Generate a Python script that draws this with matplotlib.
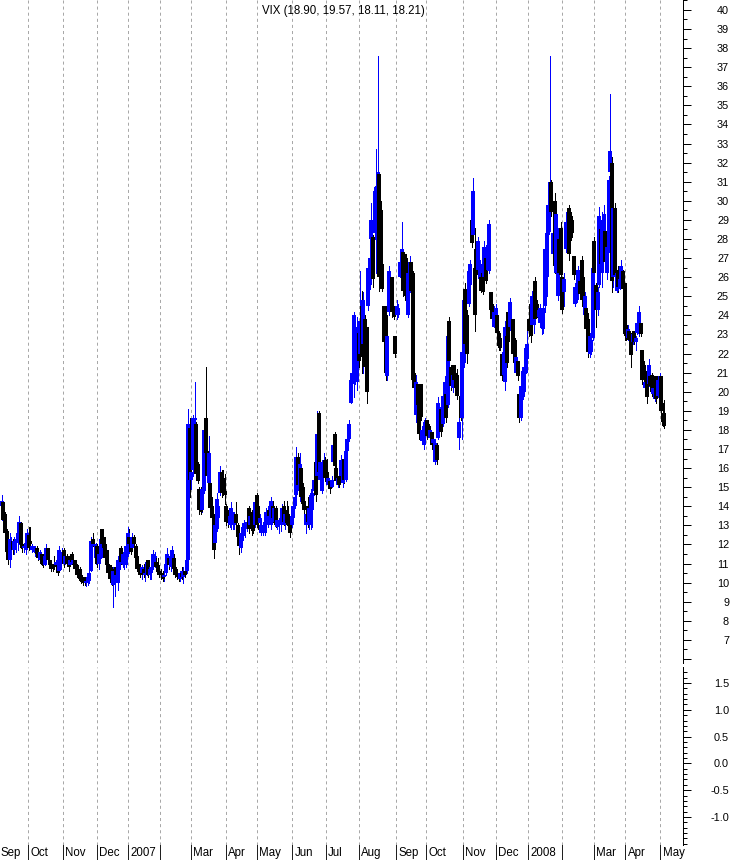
import numpy as np
import pandas as pd
import matplotlib
matplotlib.use('Agg')
import matplotlib.pyplot as plt
import matplotlib.transforms as mtransforms
from matplotlib.ticker import MultipleLocator, FixedLocator, FuncFormatter

plt.rcParams['font.family'] = ['Liberation Sans Narrow', 'Liberation Sans', 'DejaVu Sans']
plt.rcParams['axes.unicode_minus'] = False
plt.rcParams['lines.scale_dashes'] = False

title = 'VIX (18.90, 19.57, 18.11, 18.21)'
calendar_start = '2006-09-01'
first_day = '2006-09-07'
last_day = '2008-05-05'
holidays = ['2006-09-04', '2006-11-23', '2006-12-25', '2007-01-01', '2007-01-02',
            '2007-01-15', '2007-02-19', '2007-04-06', '2007-05-28', '2007-07-04',
            '2007-09-03', '2007-11-22', '2007-12-25', '2008-01-01', '2008-01-21',
            '2008-02-18', '2008-03-21']
month_names = ['Jan', 'Feb', 'Mar', 'Apr', 'May', 'Jun', 'Jul', 'Aug', 'Sep', 'Oct', 'Nov', 'Dec']

# daily VIX candles (one line per month)
opens = [
    14.0, 14.2, 13.6, 12.7, 11.6, 11.2, 11.8, 12.2, 11.7, 12.1, 12.3, 12.6, 13.1, 12.0, 11.8, 11.7, 12.0,
    12.5, 12.2, 11.7, 11.6, 11.6, 11.8, 11.6, 11.2, 11.5, 11.1, 10.9, 11.2, 11.8, 11.2, 11.0, 10.8, 11.0, 10.9, 10.9, 10.6, 11.0, 11.3,
    11.7, 11.0, 11.4, 11.1, 10.9, 11.5, 11.0, 11.2, 10.9, 10.6, 10.7, 10.4, 10.3, 10.2, 10.0, 10.1, 10.1, 10.6, 12.3, 11.9, 11.3,
    11.9, 11.0, 11.3, 12.8, 12.4, 12.0, 11.7, 11.0, 10.9, 10.7, 9.9, 10.2, 10.8, 10.0, 11.0, 11.8, 11.0, 10.9, 10.9, 11.5,
    12.4, 12.0, 11.8, 12.4, 11.9, 11.4, 10.9, 10.7, 10.5, 10.7, 10.4, 10.5, 11.2, 10.4, 10.5, 10.8, 11.3, 11.1, 10.9, 10.6,
    10.5, 10.4, 10.3, 10.5, 10.9, 11.3, 10.8, 11.3, 11.3, 10.8, 10.5, 10.3, 10.2, 10.5, 10.3, 10.6, 10.6, 11.2, 18.1,
    15.4, 15.9, 18.5, 18.3, 16.2, 14.9, 14.6, 13.8, 14.8, 18.6, 16.9, 15.2, 15.2, 14.0, 13.5, 12.1, 12.8, 13.4, 14.7, 15.8, 15.5, 14.8,
    14.0, 13.5, 13.0, 13.1, 13.3, 13.0, 13.6, 13.0, 12.6, 11.8, 12.2, 12.6, 12.8, 13.0, 13.9, 13.0, 13.6, 13.7, 13.0, 14.6,
    14.0, 13.1, 12.6, 12.7, 12.6, 13.2, 13.0, 13.8, 13.0, 14.0, 13.2, 13.9, 12.9, 13.0, 13.0, 13.2, 14.0, 13.0, 13.8, 13.6, 13.2, 13.0,
    13.4, 14.0, 14.6, 16.6, 14.8, 16.0, 15.0, 14.3, 13.0, 14.0, 13.0, 13.5, 13.8, 14.8, 16.3, 15.6, 18.9, 15.4, 14.8, 16.0, 16.4,
    15.8, 15.1, 15.3, 15.0, 16.3, 17.8, 16.0, 15.1, 15.6, 15.6, 15.2, 16.5, 15.4, 16.9, 17.5, 19.4, 20.4, 21.0, 22.0, 20.5, 23.1,
    22.0, 24.5, 22.5, 23.8, 23.4, 24.5, 25.6, 28.0, 28.1, 28.3, 29.0, 31.0, 31.4, 29.5, 26.7, 24.5, 24.0, 20.8, 24.2, 24.6, 26.0, 24.5, 22.9,
    24.0, 24.0, 26.0, 26.7, 27.3, 26.0, 27.0, 24.0, 25.2, 26.8, 26.2, 21.0, 18.8, 20.4, 19.5, 20.4, 17.4, 17.2, 17.8,
    18.5, 18.2, 17.6, 17.9, 17.3, 16.3, 17.2, 17.6, 18.8, 19.1, 18.3, 19.3, 19.9, 19.3, 23.7, 21.3, 20.2, 21.4, 20.8, 20.9, 17.6, 19.8, 18.6,
    21.5, 25.4, 24.0, 24.6, 25.6, 29.0, 28.2, 26.5, 27.5, 26.4, 25.9, 26.0, 26.2, 26.0, 27.0, 26.4, 26.3, 25.2, 24.6, 23.4, 24.0,
    24.0, 23.1, 22.8, 22.0, 20.9, 20.5, 22.9, 24.2, 23.4, 23.2, 23.8, 22.7, 21.0, 21.6, 19.9, 18.6, 19.7, 20.0, 21.0, 21.7,
    23.8, 23.5, 23.5, 23.5, 25.8, 24.6, 23.9, 23.6, 23.4, 23.3, 24.5, 26.0, 28.2, 29.9, 31.0, 27.2, 30.0, 26.2, 25.0, 28.0, 28.6,
    26.0, 25.2, 27.5, 27.8, 29.6, 29.4, 29.0, 27.1, 24.6, 24.8, 25.3, 25.8, 26.9, 26.0, 24.0, 24.4, 23.8, 22.0, 22.1, 22.8,
    27.9, 25.6, 24.3, 25.6, 28.5, 26.2, 27.0, 28.4, 26.2, 27.5, 31.5, 32.0, 26.0, 29.6, 25.3, 26.4, 25.4, 25.8, 26.3, 25.7,
    23.5, 22.8, 23.2, 22.8, 22.6, 23.2, 22.6, 23.1, 23.0, 23.6, 22.2, 21.4, 20.2, 21.1, 20.4, 20.8, 20.9, 19.9, 19.6, 20.8, 19.8, 20.5,
    20.8, 18.9, 18.90]
highs = [
    14.6, 14.3, 13.7, 12.8, 11.7, 12.6, 12.4, 12.3, 12.4, 12.4, 12.9, 13.5, 13.2, 12.3, 12.0, 12.2, 12.8,
    12.9, 12.9, 12.0, 11.9, 11.9, 11.9, 11.8, 11.7, 11.5, 11.2, 11.6, 12.0, 11.8, 11.2, 11.1, 10.9, 11.4, 11.2, 11.0, 11.9, 11.4, 11.8,
    11.8, 11.6, 11.5, 11.4, 11.2, 11.6, 11.3, 11.2, 11.0, 10.7, 10.8, 10.5, 10.3, 10.3, 10.2, 10.5, 10.6, 12.4, 12.6, 12.3, 12.1,
    12.0, 11.6, 12.5, 12.8, 12.4, 12.1, 11.7, 11.0, 10.9, 10.8, 10.8, 10.6, 11.0, 11.4, 11.5, 11.9, 11.6, 11.2, 12.1, 12.9,
    12.8, 12.3, 12.6, 12.5, 12.0, 11.4, 11.0, 11.0, 10.9, 11.0, 10.6, 11.2, 11.2, 10.8, 10.9, 11.7, 11.6, 11.4, 11.3, 10.9,
    10.7, 10.6, 10.5, 11.2, 11.8, 11.4, 11.6, 11.9, 11.5, 10.9, 10.7, 10.5, 10.6, 10.8, 10.8, 11.0, 11.7, 19.1, 18.6,
    18.6, 18.8, 20.5, 18.4, 16.3, 15.0, 15.0, 15.2, 18.2, 21.3, 17.6, 17.7, 15.3, 14.5, 13.6, 13.8, 14.7, 14.1, 16.1, 15.9, 15.9, 15.7,
    14.1, 13.8, 13.6, 14.2, 13.7, 13.7, 14.2, 13.1, 12.8, 12.9, 12.8, 13.3, 13.2, 13.4, 14.0, 13.7, 13.8, 13.8, 14.5, 14.7,
    14.0, 13.6, 13.2, 13.0, 13.4, 13.9, 14.0, 14.0, 14.5, 14.3, 14.0, 14.0, 13.5, 13.4, 13.5, 14.1, 14.3, 13.9, 14.3, 14.0, 13.4, 14.0,
    14.2, 14.8, 17.1, 16.8, 16.8, 16.1, 15.2, 14.4, 14.0, 14.5, 14.1, 14.9, 14.9, 15.6, 16.6, 19.0, 19.0, 16.6, 16.3, 16.8, 16.6,
    16.5, 15.6, 15.4, 15.6, 17.7, 17.9, 16.2, 15.6, 15.6, 16.7, 15.9, 16.6, 17.0, 17.6, 18.5, 20.8, 23.4, 24.2, 24.0, 23.9, 23.1,
    26.3, 25.3, 25.2, 24.0, 23.4, 26.9, 28.3, 29.9, 28.2, 30.8, 32.7, 37.6, 31.5, 30.0, 26.7, 24.5, 24.5, 23.1, 26.6, 26.0, 26.0, 24.5, 22.9,
    24.8, 24.6, 27.2, 28.9, 27.4, 27.2, 27.2, 26.6, 27.1, 26.8, 26.3, 21.0, 20.9, 20.4, 19.5, 20.4, 18.1, 18.5, 18.6,
    18.5, 18.3, 18.2, 17.9, 17.6, 17.5, 17.3, 19.7, 19.2, 19.2, 20.1, 20.8, 20.6, 23.1, 23.9, 21.4, 21.1, 21.4, 21.0, 21.2, 18.7, 20.2, 22.4,
    25.3, 25.7, 24.3, 26.6, 26.9, 29.2, 31.2, 28.6, 27.5, 28.1, 26.9, 26.0, 26.4, 27.9, 27.0, 27.9, 29.0, 25.2, 24.6, 24.5, 24.6,
    24.2, 23.2, 23.1, 22.0, 22.4, 23.7, 22.9, 24.2, 24.9, 23.8, 23.8, 22.8, 22.0, 21.6, 19.9, 20.6, 21.3, 21.5, 22.5, 23.2,
    24.6, 23.7, 25.3, 25.5, 26.0, 24.8, 24.4, 24.6, 24.4, 24.6, 28.1, 28.5, 30.0, 37.6, 31.1, 28.5, 30.4, 29.7, 28.6, 28.3, 28.9,
    26.0, 26.2, 29.4, 29.2, 29.8, 29.6, 29.2, 27.1, 25.7, 25.7, 26.6, 25.8, 27.1, 26.2, 25.2, 24.5, 24.1, 23.1, 22.9, 26.9,
    28.1, 25.7, 25.5, 29.7, 28.6, 29.4, 29.8, 28.6, 28.0, 31.3, 35.6, 32.3, 29.9, 29.9, 26.4, 26.6, 26.1, 26.9, 26.4, 25.7,
    24.1, 23.5, 23.3, 23.1, 23.1, 23.2, 22.9, 23.8, 24.5, 23.6, 22.2, 21.6, 20.6, 21.1, 21.7, 21.0, 21.0, 20.4, 20.3, 20.8, 20.8, 21.0,
    20.8, 19.4, 19.57]
lows = [
    13.3, 13.1, 12.4, 11.4, 11.0, 10.8, 11.6, 11.5, 11.5, 11.6, 11.7, 12.0, 11.8, 11.6, 11.6, 11.5, 11.9,
    11.7, 11.8, 11.6, 11.6, 11.4, 11.4, 11.2, 11.1, 10.9, 10.8, 10.9, 11.2, 11.1, 10.8, 10.6, 10.6, 10.7, 10.9, 10.4, 10.6, 10.7, 11.2,
    10.8, 11.0, 10.9, 10.6, 10.9, 11.0, 10.8, 10.6, 10.3, 10.3, 10.1, 10.0, 9.9, 9.9, 9.8, 9.9, 10.0, 10.6, 11.9, 11.4, 11.0,
    10.8, 10.7, 11.3, 11.9, 11.7, 11.2, 10.8, 10.4, 10.1, 9.9, 8.7, 9.3, 10.3, 9.6, 10.7, 11.0, 10.8, 10.7, 10.8, 11.4,
    11.9, 11.5, 11.7, 11.8, 11.2, 10.6, 10.5, 10.3, 10.2, 10.3, 10.1, 10.4, 10.3, 10.2, 10.2, 10.7, 10.8, 10.6, 10.5, 10.3,
    10.2, 10.1, 10.1, 10.4, 10.6, 10.7, 10.6, 11.0, 10.6, 10.3, 10.2, 10.1, 10.1, 10.2, 10.0, 10.3, 10.5, 11.1, 14.5,
    14.9, 15.6, 18.1, 15.6, 15.2, 13.6, 13.6, 13.7, 14.7, 16.4, 15.5, 14.8, 13.7, 13.3, 11.3, 12.0, 12.7, 13.3, 14.6, 14.5, 14.6, 14.1,
    13.0, 12.9, 12.9, 12.8, 12.8, 12.8, 13.0, 12.2, 11.5, 11.6, 12.0, 12.5, 12.4, 12.7, 12.6, 12.9, 12.5, 12.6, 12.9, 12.9,
    12.8, 12.9, 12.5, 12.5, 12.5, 12.9, 12.9, 13.3, 12.8, 13.2, 13.1, 12.9, 12.8, 12.6, 12.7, 13.1, 13.0, 12.8, 13.0, 12.9, 12.4, 12.9,
    13.3, 13.9, 14.2, 14.9, 14.3, 14.2, 13.9, 13.6, 12.6, 12.9, 12.8, 12.8, 12.9, 14.6, 14.3, 15.5, 15.6, 15.4, 14.7, 15.7, 15.3,
    15.2, 15.0, 14.7, 15.0, 16.2, 15.9, 15.2, 15.0, 15.0, 15.5, 15.0, 15.2, 15.3, 16.6, 17.4, 19.4, 20.3, 19.7, 20.4, 20.1, 21.3,
    21.7, 21.0, 21.0, 20.8, 19.4, 24.3, 25.4, 27.7, 25.5, 28.0, 26.2, 30.0, 25.3, 25.9, 25.3, 22.4, 20.6, 20.6, 24.0, 24.5, 23.9, 23.8, 21.8,
    23.8, 23.9, 26.0, 26.5, 25.0, 24.8, 24.9, 23.9, 25.2, 25.0, 20.4, 20.1, 18.4, 19.2, 17.5, 18.5, 17.3, 17.0, 17.6,
    17.5, 17.8, 17.5, 17.0, 17.1, 16.2, 16.2, 17.5, 18.4, 17.7, 18.2, 18.9, 18.4, 19.2, 21.2, 20.1, 20.0, 20.4, 20.0, 19.6, 17.0, 18.5, 17.5,
    21.3, 22.0, 21.5, 24.5, 25.5, 27.6, 27.9, 23.2, 26.0, 26.4, 25.8, 25.2, 25.1, 26.0, 25.7, 26.4, 26.2, 24.1, 23.6, 23.4, 23.9,
    22.9, 22.2, 22.2, 20.6, 20.8, 20.1, 21.3, 22.4, 23.4, 22.9, 21.8, 21.3, 21.0, 20.6, 18.4, 18.5, 19.6, 19.8, 21.0, 21.7,
    22.9, 22.6, 23.4, 23.1, 23.6, 23.9, 23.9, 23.4, 23.0, 23.1, 24.2, 25.0, 28.0, 28.4, 29.2, 27.1, 26.2, 25.9, 24.8, 25.9, 25.5,
    24.1, 24.5, 27.3, 27.3, 26.9, 27.6, 28.1, 25.9, 24.5, 24.7, 25.2, 25.0, 24.5, 24.6, 23.8, 23.1, 21.8, 21.8, 22.0, 22.7,
    25.9, 23.4, 24.0, 25.5, 26.4, 25.5, 26.9, 26.4, 25.9, 27.3, 30.9, 25.2, 25.5, 25.7, 25.2, 25.2, 25.4, 25.7, 25.2, 22.7,
    22.7, 22.7, 22.5, 21.3, 22.5, 22.5, 22.2, 23.0, 22.9, 22.9, 20.4, 20.4, 20.1, 19.4, 20.3, 20.1, 19.8, 19.8, 19.5, 19.4, 19.7, 20.2,
    18.9, 18.2, 18.11]
closes = [
    14.3, 13.3, 12.6, 11.6, 11.2, 12.3, 12.2, 11.7, 12.2, 12.3, 12.6, 13.2, 12.0, 11.8, 11.9, 12.1, 12.6,
    11.8, 12.0, 11.9, 11.8, 11.8, 11.5, 11.3, 11.6, 11.0, 10.9, 11.4, 11.8, 11.2, 10.9, 10.7, 10.7, 10.8, 11.1, 10.5, 11.7, 11.3, 11.6,
    11.0, 11.4, 11.0, 10.8, 11.2, 11.1, 11.2, 10.7, 10.4, 10.4, 10.2, 10.1, 10.0, 10.0, 10.1, 10.3, 10.5, 12.2, 12.0, 12.0, 11.9,
    11.0, 11.5, 12.3, 12.0, 11.8, 11.3, 10.9, 10.5, 10.2, 10.0, 10.6, 10.4, 10.4, 11.2, 11.4, 11.1, 11.5, 11.1, 11.9, 12.6,
    12.0, 11.6, 12.4, 12.0, 11.3, 10.7, 10.6, 10.4, 10.8, 10.4, 10.5, 11.1, 10.4, 10.7, 10.8, 11.5, 11.4, 10.8, 10.6, 10.4,
    10.4, 10.2, 10.4, 11.0, 11.5, 10.9, 11.4, 11.7, 10.7, 10.4, 10.3, 10.2, 10.5, 10.3, 10.6, 10.4, 11.2, 18.3, 15.4,
    15.8, 18.6, 18.6, 15.7, 15.3, 13.8, 13.7, 14.9, 18.0, 16.8, 15.6, 16.8, 13.9, 13.4, 11.7, 13.0, 14.4, 14.0, 15.8, 14.7, 14.7, 14.6,
    13.2, 13.1, 13.5, 13.9, 13.5, 13.5, 13.1, 12.4, 11.9, 12.6, 12.6, 13.1, 13.1, 13.2, 12.8, 13.5, 12.8, 12.7, 14.2, 13.0,
    13.1, 13.4, 13.0, 12.9, 13.2, 13.7, 13.8, 13.5, 14.3, 13.4, 13.9, 13.0, 13.3, 13.2, 13.3, 13.9, 13.2, 13.6, 13.1, 13.0, 12.6, 13.5,
    14.0, 14.5, 16.6, 15.1, 16.2, 14.5, 14.1, 13.8, 13.6, 13.2, 13.9, 14.6, 14.7, 15.4, 14.6, 17.8, 15.8, 16.3, 16.0, 16.4, 15.5,
    15.4, 15.5, 14.9, 15.4, 17.2, 16.1, 15.3, 15.5, 15.1, 16.4, 15.8, 15.4, 16.9, 17.5, 18.3, 20.6, 21.0, 24.0, 23.4, 23.3, 21.6,
    23.7, 21.8, 24.8, 21.3, 20.0, 26.5, 27.0, 29.0, 25.9, 30.5, 30.7, 31.5, 26.0, 26.4, 25.4, 22.6, 21.0, 22.9, 26.3, 25.8, 24.2, 23.9, 22.0,
    24.5, 24.4, 26.8, 27.5, 25.3, 25.0, 25.2, 26.2, 26.8, 25.3, 20.6, 20.2, 20.5, 19.3, 17.8, 18.7, 18.0, 18.2, 18.4,
    17.7, 17.9, 18.0, 17.2, 17.5, 17.3, 16.4, 19.4, 19.0, 17.9, 19.8, 20.5, 18.6, 22.9, 21.6, 20.3, 20.9, 20.6, 20.2, 19.8, 18.4, 18.6, 22.1,
    24.8, 22.5, 22.0, 26.3, 26.7, 27.8, 30.5, 24.0, 26.1, 27.9, 26.7, 25.3, 25.2, 27.6, 25.8, 27.7, 28.8, 24.3, 23.8, 24.2, 24.4,
    23.1, 22.4, 22.3, 20.8, 22.1, 23.4, 21.5, 22.6, 24.7, 23.6, 22.0, 21.5, 21.8, 20.8, 18.6, 20.3, 21.1, 21.3, 22.3, 22.5,
    23.2, 22.9, 25.0, 25.2, 23.8, 24.1, 24.3, 24.4, 24.2, 24.4, 27.5, 28.3, 29.8, 31.0, 29.4, 28.3, 26.6, 29.3, 28.2, 26.2, 26.1,
    24.3, 25.9, 28.9, 28.9, 27.2, 27.9, 28.3, 26.1, 25.5, 25.5, 26.4, 25.1, 24.8, 24.8, 25.0, 23.3, 22.1, 22.9, 22.7, 26.5,
    26.2, 24.3, 25.2, 29.2, 26.7, 29.0, 29.3, 26.8, 27.6, 31.1, 32.6, 25.8, 29.6, 26.1, 26.2, 25.5, 25.9, 26.6, 25.4, 23.0,
    22.9, 23.3, 22.7, 21.9, 23.0, 22.6, 22.8, 23.6, 24.2, 23.0, 20.6, 20.6, 20.5, 19.7, 21.4, 20.3, 20.0, 20.2, 20.1, 19.6, 20.6, 20.8,
    19.0, 18.4, 18.21]

# trading calendar
cal = pd.bdate_range(calendar_start, last_day)
cal = cal[~cal.isin(pd.to_datetime(holidays))]
offset = int(np.where(cal == pd.Timestamp(first_day))[0][0])
dates = cal[offset:]
x = np.arange(len(dates))
o = np.array(opens)
h = np.array(highs)
l = np.array(lows)
c = np.array(closes)
up = c >= o
colors = np.where(up, '#0000ff', '#000000')

# month boundaries (position of first trading day of each month)
month_start = []
for i in range(len(cal)):
    if i == 0 or cal[i].month != cal[i - 1].month:
        month_start.append((i - offset, cal[i]))

W, H = 733, 860
fig = plt.figure(figsize=(W / 100, H / 100), dpi=100)
ax = fig.add_axes([0, 197 / H, 683 / W, 663 / H])
ax2 = fig.add_axes([0, 15 / H, 683 / W, 178 / H], sharex=ax)

px = 1.593
xmin = -1.1
xmax = xmin + 683 / px

for a in (ax, ax2):
    for s in ('top', 'left', 'bottom'):
        a.spines[s].set_visible(False)
    a.spines['right'].set_linewidth(0.72)
    a.yaxis.tick_right()
    a.tick_params(axis='y', which='major', direction='out', length=5.8, width=0.72,
                  pad=27.4, labelsize=7.8)
    a.tick_params(axis='y', which='minor', direction='out', length=2.9, width=0.72)
    a.tick_params(axis='x', which='both', bottom=False, labelbottom=False)
    for b, d in month_start:
        a.axvline(b - 0.5, color='#a8a8a8', lw=0.72, linestyle=(0, (2.2, 2.2)), zorder=0)

# candles: thin wick, 2px body
ax.vlines(x, l, h, colors=colors, lw=0.72, antialiased=False, zorder=2)
ax.vlines(x, np.minimum(o, c), np.maximum(o, c), colors=colors, lw=1.5, antialiased=False, zorder=3)

ax.set_xlim(xmin, xmax)
ax.set_ylim(5.79, 40.52)
ax.yaxis.set_major_locator(MultipleLocator(1))
ax.yaxis.set_minor_locator(MultipleLocator(0.5))
ax.yaxis.set_major_formatter(FuncFormatter(lambda v, p: '%d' % round(v) if v > 6.5 else ''))

ax2.set_ylim(-1.522, 1.798)
ax2.yaxis.set_major_locator(FixedLocator([-1.0, -0.5, 0.0, 0.5, 1.0, 1.5]))
ax2.yaxis.set_minor_locator(MultipleLocator(0.1))
ax2.yaxis.set_major_formatter(FuncFormatter(lambda v, p: '%.1f' % v))

for a in (ax, ax2):
    for lab in a.get_yticklabels():
        lab.set_horizontalalignment('right')

# month labels under the lower panel
trans = mtransforms.blended_transform_factory(ax2.transData, ax2.transAxes)
for b, d in month_start:
    xb = b - 0.5
    ax2.plot([xb, xb], [0, -15 / 178], color='#202020', lw=0.72, transform=trans, clip_on=False)
    if d.month == 1:
        lab = str(d.year)
    elif d.month == 2:
        continue
    else:
        lab = month_names[d.month - 1]
    ax2.text(max(xb + 1.3, xmin + 0.2), -8 / 178, lab, transform=trans, ha='left', va='center',
             fontsize=8.3, clip_on=False)

fig.text(343 / W, 1 - 11 / H, title, ha='center', va='center', fontsize=8.3)

fig.savefig('out.png', dpi=100)
